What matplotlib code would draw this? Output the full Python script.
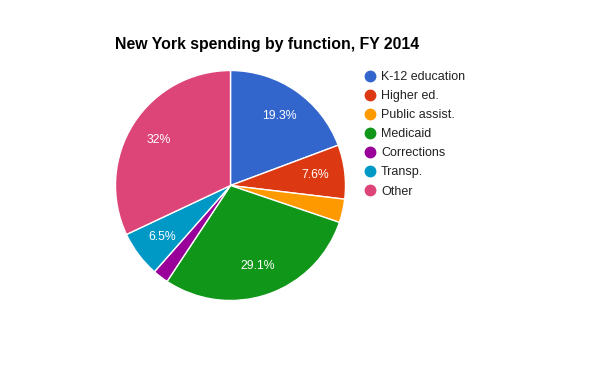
import matplotlib.pyplot as plt
from matplotlib.lines import Line2D

plt.rcParams['font.family'] = ['Liberation Sans', 'DejaVu Sans']

# data
categories = ['K-12 education', 'Higher ed.', 'Public assist.', 'Medicaid',
              'Corrections', 'Transp.', 'Other']
shares = [19.3, 7.6, 3.3, 29.1, 2.2, 6.5, 32.0]
colors = ['#3366cc', '#dc3912', '#ff9900', '#109618', '#990099', '#0099c6', '#dd4477']

W, H = 600, 371
fig = plt.figure(figsize=(6, 3.71), dpi=100)

# pie box in pixels: center (230.5, 185.5), radius 115
cx, cy, r = 230.5, 185.5, 115
ax = fig.add_axes([(cx - r) / W, (H - cy - r) / H, 2 * r / W, 2 * r / H])


def pct_label(p):
    if p < 5:
        return ''
    return f'{round(p, 1):g}%'


wedges, texts, autotexts = ax.pie(
    shares, colors=colors, startangle=90, counterclock=False,
    autopct=pct_label, pctdistance=0.74,
    wedgeprops=dict(edgecolor='white', linewidth=1),
    textprops=dict(color='white', fontsize=8.8))
ax.set_xlim(-1, 1)
ax.set_ylim(-1, 1)
ax.set_aspect('auto')
ax.axis('off')

fig.text(115 / W, 1 - 45 / H, 'New York spending by function, FY 2014',
         fontsize=11.4, fontweight='bold', va='center', ha='left')

# legend
for i, (lab, col) in enumerate(zip(categories, colors)):
    y = 1 - (76 + 19 * i) / H
    fig.add_artist(Line2D([370 / W], [y], marker='o', markersize=7.5,
                          color=col, linestyle='none', transform=fig.transFigure))
    fig.text(381 / W, y, lab, fontsize=9, color='#222222',
             va='center_baseline', ha='left')

fig.savefig('out.png', dpi=100)
